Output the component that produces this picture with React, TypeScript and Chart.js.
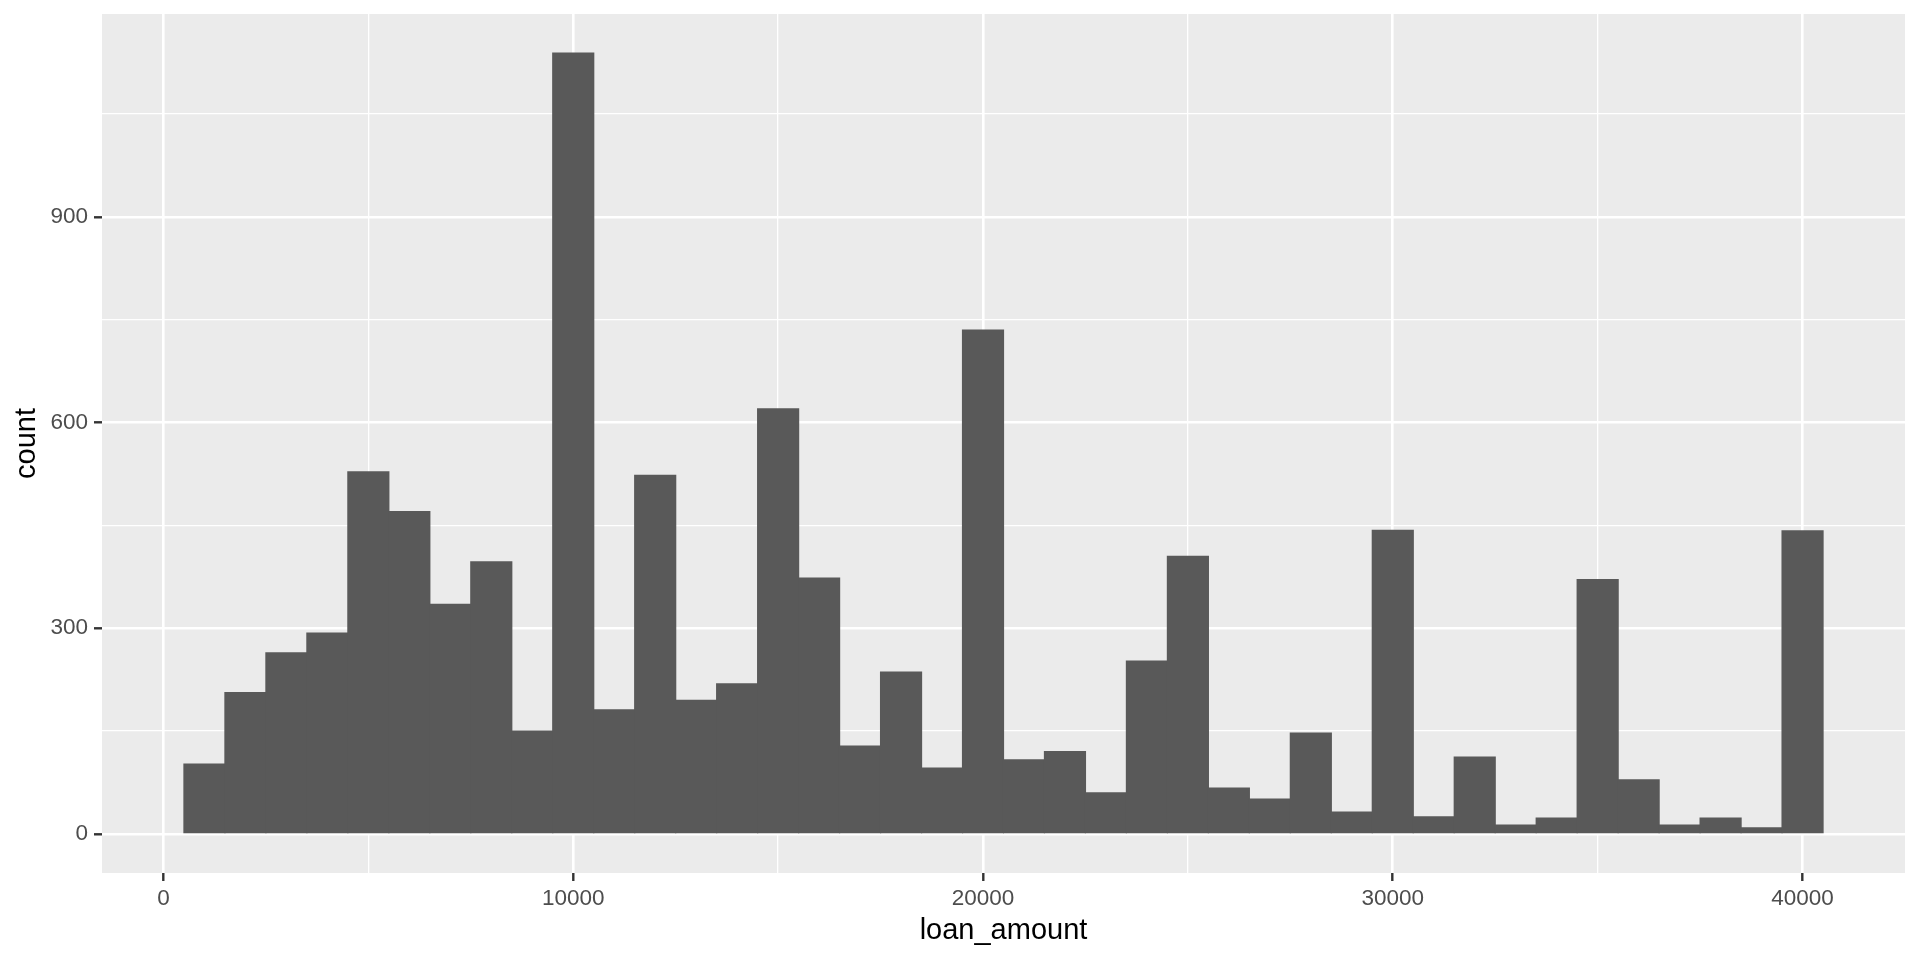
import { useEffect, useRef } from "react";
import { Chart, registerables } from "chart.js";

Chart.register(...registerables);

// histogram bins (centre of each 1000-wide bin) and their counts
const binCenters = [
  1000, 2000, 3000, 4000, 5000, 6000, 7000, 8000, 9000, 10000,
  11000, 12000, 13000, 14000, 15000, 16000, 17000, 18000, 19000, 20000,
  21000, 22000, 23000, 24000, 25000, 26000, 27000, 28000, 29000, 30000,
  31000, 32000, 33000, 34000, 35000, 36000, 37000, 38000, 39000, 40000,
];
const counts = [
  102, 206, 264, 293, 528, 470, 335, 397, 150, 1139,
  181, 523, 195, 219, 620, 373, 128, 236, 96, 735,
  108, 120, 60, 252, 405, 67, 51, 147, 32, 443,
  25, 112, 13, 23, 371, 79, 13, 23, 9, 442,
];

const xBreaks = [0, 5000, 10000, 15000, 20000, 25000, 30000, 35000, 40000];
const xLabelled = [0, 10000, 20000, 30000, 40000];
const yBreaks = [0, 150, 300, 450, 600, 750, 900, 1050];
const yLabelled = [0, 300, 600, 900];

const FONT = "'Liberation Sans', Arial, sans-serif";

const panelBg = {
  id: "panelBg",
  beforeDraw(chart: any) {
    const { ctx, chartArea: a } = chart;
    ctx.save();
    ctx.fillStyle = "#EBEBEB";
    ctx.fillRect(a.left, a.top, a.right - a.left, a.bottom - a.top);
    ctx.restore();
  },
};

const App = () => {
  const canvasRef = useRef<HTMLCanvasElement>(null);

  useEffect(() => {
    if (!canvasRef.current) return;
    const ctx = canvasRef.current.getContext("2d");
    if (!ctx) return;

    const points = binCenters.map((x, i) => ({ x, y: counts[i] }));

    const chart = new Chart(ctx, {
      type: "bar",
      data: {
        datasets: [
          {
            label: "count",
            data: points as any,
            backgroundColor: "#595959",
            borderWidth: 0,
            barPercentage: 1,
            categoryPercentage: 1,
            inflateAmount: 0.6,
          },
        ],
      },
      plugins: [panelBg],
      options: {
        animation: false,
        responsive: true,
        maintainAspectRatio: false,
        layout: { padding: { top: 14, right: 15, bottom: 0, left: 0 } },
        plugins: {
          legend: { display: false },
          tooltip: { enabled: false },
        },
        scales: {
          x: {
            type: "linear",
            min: -1500,
            max: 42500,
            offset: false,
            afterFit: (scale: any) => {
              scale.height = 87;
              scale.paddingLeft = 0;
              scale.paddingRight = 0;
            },
            afterBuildTicks: (scale: any) => {
              scale.ticks = xBreaks.map((v) => ({ value: v }));
            },
            border: { display: false },
            grid: {
              offset: false,
              color: "#FFFFFF",
              lineWidth: (c: any) =>
                xLabelled.includes(c.tick?.value) ? 2.6 : 1.3,
              tickLength: 8,
              tickWidth: 2.4,
              tickColor: (c: any) =>
                xLabelled.includes(c.tick?.value) ? "#333333" : "rgba(0,0,0,0)",
            },
            ticks: {
              autoSkip: false,
              maxRotation: 0,
              padding: 4,
              color: "#4D4D4D",
              font: { family: FONT, size: 22.5 },
              callback: (v: any) => (xLabelled.includes(Number(v)) ? String(v) : ""),
            },
            title: {
              display: true,
              text: "loan_amount",
              color: "#000000",
              font: { family: FONT, size: 29 },
              padding: { top: 0, bottom: 12 },
            },
          },
          y: {
            type: "linear",
            min: -56.95,
            max: 1195.95,
            afterFit: (scale: any) => {
              scale.width = 102;
              scale.paddingTop = 0;
              scale.paddingBottom = 0;
            },
            afterBuildTicks: (scale: any) => {
              scale.ticks = yBreaks.map((v) => ({ value: v }));
            },
            border: { display: false },
            grid: {
              color: "#FFFFFF",
              lineWidth: (c: any) =>
                yLabelled.includes(c.tick?.value) ? 2.6 : 1.3,
              tickLength: 8,
              tickWidth: 2.4,
              tickColor: (c: any) =>
                yLabelled.includes(c.tick?.value) ? "#333333" : "rgba(0,0,0,0)",
            },
            ticks: {
              autoSkip: false,
              padding: 6,
              color: "#4D4D4D",
              font: { family: FONT, size: 22.5 },
              callback: (v: any) => (yLabelled.includes(Number(v)) ? String(v) : ""),
            },
            title: {
              display: true,
              text: "count",
              color: "#000000",
              font: { family: FONT, size: 29 },
              padding: { top: 10, bottom: 0 },
            },
          },
        },
      },
    });

    return () => {
      chart.destroy();
    };
  }, []);

  return (
    <div
      style={{
        position: "fixed",
        left: 0,
        top: 0,
        width: "1920px",
        height: "960px",
        background: "#FFFFFF",
      }}
    >
      <canvas ref={canvasRef} />
    </div>
  );
};

export default App;
